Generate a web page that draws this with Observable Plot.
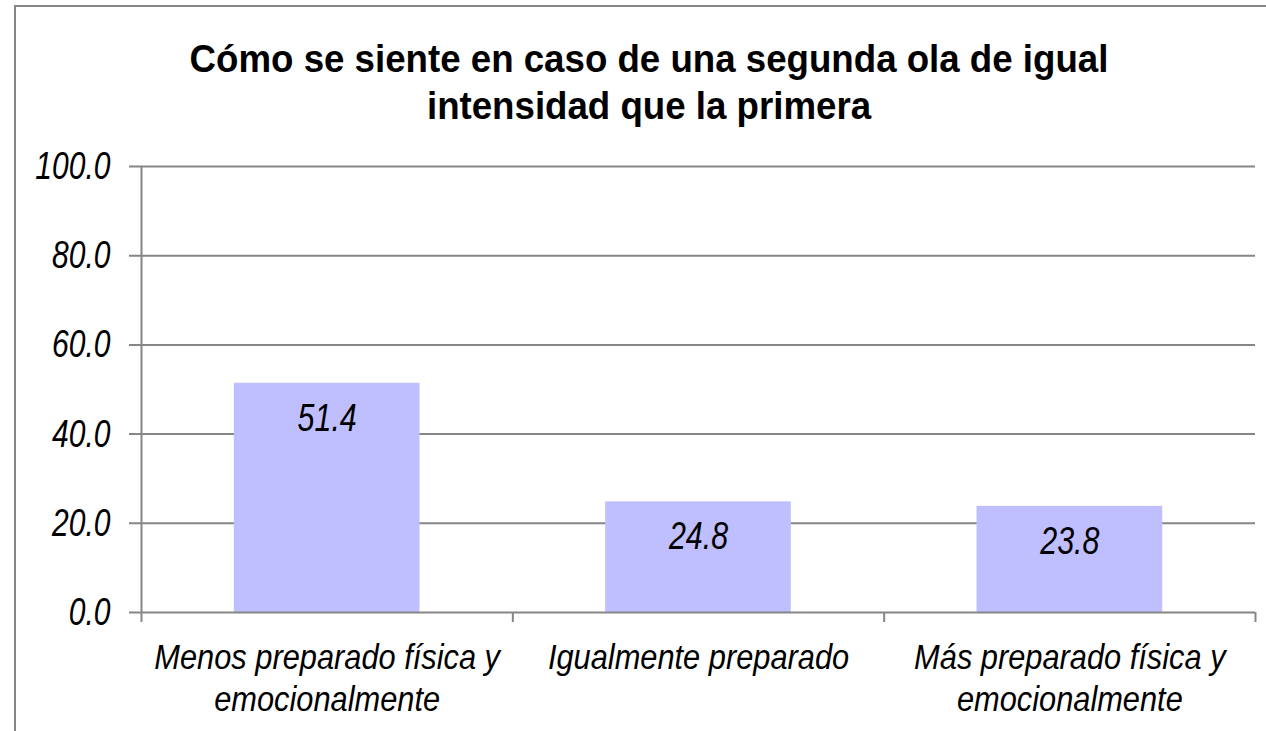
<!DOCTYPE html>
<html><head><meta charset="utf-8">
<script src="https://cdn.jsdelivr.net/npm/d3@7"></script>
<script src="https://cdn.jsdelivr.net/npm/@observablehq/plot@0.6"></script>
<style>
body{margin:0;background:#fff;}
#wrap{position:relative;width:1266px;height:731px;overflow:hidden;font-family:"Liberation Sans",Arial,sans-serif;}
#frame{position:absolute;left:14px;top:5px;width:1400px;height:900px;border-left:2px solid #868686;border-top:2px solid #868686;}
#title{position:absolute;left:0;top:35px;width:1298px;text-align:center;font-weight:bold;font-size:39px;line-height:47px;color:#000;transform:scaleX(0.94);transform-origin:649px 0;}
#chart{position:absolute;left:0;top:130px;}
</style></head>
<body>
<div id="wrap">
  <div id="frame"></div>
  <div id="title">Cómo se siente en caso de una segunda ola de igual<br>intensidad que la primera</div>
  <div id="chart"></div>
</div>
<script>
const titleText = "Cómo se siente en caso de una segunda ola de igual intensidad que la primera";
const categories = ["Menos preparado física y\nemocionalmente", "Igualmente preparado", "Más preparado física y\nemocionalmente"];
const values = [51.4, 24.8, 23.8];
const yTicks = [0, 20, 40, 60, 80, 100];

const data = categories.map((c, i) => ({category: c, value: values[i], index: i}));
const font = '"Liberation Sans",Arial,sans-serif';
const grid = "#868686";

const plot = Plot.plot({
  width: 1266,
  height: 601,
  marginTop: 36,
  marginBottom: 119,
  marginLeft: 141,
  marginRight: 11,
  style: {fontFamily: font, color: "black", background: "transparent", overflow: "visible"},
  x: {domain: [0, categories.length], axis: null},
  y: {domain: [0, 100], axis: null},
  marks: [
    Plot.ruleY(yTicks.filter(d => d > 0), {y: d => d, stroke: grid, strokeWidth: 2, insetLeft: -12}),
    Plot.rectY(data, {x1: d => d.index + 0.25, x2: d => d.index + 0.75, y1: 0, y2: "value", fill: "#BFBFFF"}),
    Plot.ruleY([0], {y: d => d, stroke: grid, strokeWidth: 2, insetLeft: -12}),
    Plot.ruleX([0], {x: d => d, stroke: grid, strokeWidth: 2, insetBottom: -10}),
    Plot.ruleX(d3.range(1, categories.length + 1), {x: d => d, y1: 0, y2: 0, stroke: grid, strokeWidth: 2, insetBottom: -10}),
    Plot.text(yTicks, {x: 0, y: d => d, text: d => d.toFixed(1), textAnchor: "end", dx: -31, fontSize: 39, fontStyle: "italic", fill: "black"}),
    Plot.text(data, {x: d => d.index + 0.5, y: "value", text: d => d.value.toFixed(1), dy: 35, fontSize: 39, fontStyle: "italic", fill: "black"}),
    Plot.text(data, {x: d => d.index + 0.5, y: 0, text: "category", lineAnchor: "top", dy: 26.5, lineHeight: 1.2, fontSize: 35, fontStyle: "italic", fill: "black"})
  ]
});
document.getElementById("chart").appendChild(plot);

// condense the text horizontally (the reference uses a narrow face)
const scales = [0.77, 0.78, 0.88];
d3.select(plot).selectAll('g[aria-label="text"]').each(function(_, gi) {
  const s = scales[gi];
  d3.select(this).selectAll("text").each(function() {
    const t = this.getAttribute("transform");
    if (t && t.includes("translate")) {
      this.setAttribute("transform", t + ` scale(${s},1)`);
    } else {
      const x = +(this.getAttribute("x") || 0);
      this.setAttribute("transform", `translate(${x},0) scale(${s},1) translate(${-x},0)`);
    }
  });
});
</script>
</body></html>
